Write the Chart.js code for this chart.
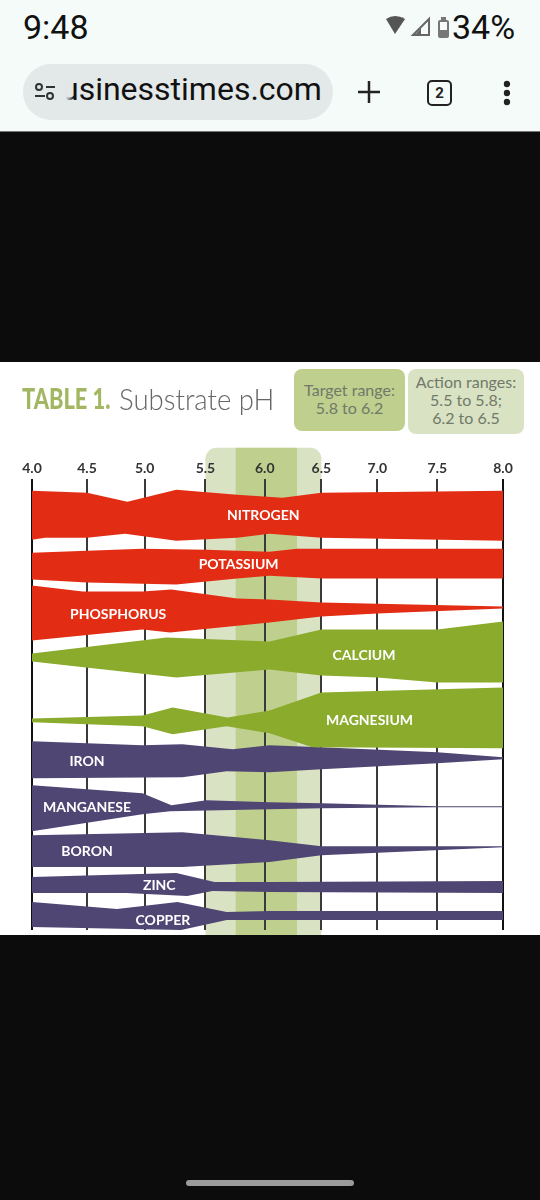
<!DOCTYPE html>
<html>
<head>
<meta charset="utf-8">
<title>Substrate pH</title>
<script src="https://cdn.jsdelivr.net/npm/chart.js@4/dist/chart.umd.min.js"></script>
<style>
    html, body { margin: 0; padding: 0; background: #0c0c0c; }
    #page { position: relative; width: 540px; height: 1200px; overflow: hidden; font-family: Roboto, sans-serif; }
    #statusbar { position: absolute; left: 0; top: 0; width: 540px; height: 131px; background: #f5fbf8; border-bottom: 1px solid #777; }
    .abs { position: absolute; white-space: nowrap; }
    #clock { left: 23px; top: 7px; font-size: 34px; color: #111; }
    #battery { left: 452px; top: 7px; font-size: 34px; color: #111; }
    #urlpill { left: 23px; top: 64px; width: 310px; height: 56px; border-radius: 28px; background: #e3e8e8; }
    #url { left: 61px; top: 70px; font-size: 32px; color: #111; }
    #urlfade { left: 58px; top: 72px; width: 16px; height: 40px; background: linear-gradient(to right, #e3e8e8 50%, rgba(227,232,232,0)); }
    #tabs { left: 427px; top: 80px; width: 21px; height: 22px; border: 2.5px solid #222; border-radius: 5px; font-size: 15px; font-weight: 700; line-height: 22px; text-align: center; color: #222; }
    #sheet { position: absolute; left: 0; top: 362px; width: 540px; height: 573px; background: #fff; }
    #chart-box { position: absolute; left: 0; top: 0; width: 540px; height: 573px; }
    #title1 { left: 22px; top: 19px; font-family: Lato, sans-serif; font-weight: 900; font-size: 28px; color: #a3b763; transform: scaleX(0.78); transform-origin: left top; }
    #title2 { left: 119px; top: 19px; font-family: Lato, sans-serif; font-weight: 300; font-size: 29px; color: #666; transform: scaleX(0.95); transform-origin: left top; }
    .range { position: absolute; top: 7px; height: 65px; border-radius: 8px; text-align: center; font-family: Lato, sans-serif; font-size: 16px; line-height: 18px; color: #70796a; }
    #target { left: 294px; width: 111px; height: 62px; background: #bfcf8e; }
    #action { left: 408px; width: 116px; background: #d9e2c3; }
    #homebar { left: 186px; top: 1180px; width: 168px; height: 6px; border-radius: 3px; background: #9c9c9c; }
</style>
</head>
<body>
<div id="page">
    <div id="statusbar"></div>
    <div class="abs" id="clock">9:48</div>
    <svg class="abs" style="left:384px;top:14px" width="60" height="26" viewBox="0 0 60 26">
        <path d="M2 5 Q11 -1 21 5 L11 20 Z" fill="#555"/>
        <text x="17" y="7" font-size="6" fill="#555" font-family="Roboto">6</text>
        <path d="M29 21 L45 5 V21 Z" fill="none" stroke="#666" stroke-width="2"/>
        <path d="M31 21 L37 14 V21 Z" fill="#666"/>
    </svg>
    <svg class="abs" style="left:437px;top:17px" width="14" height="22" viewBox="0 0 14 22">
        <rect x="1" y="3" width="11" height="18" rx="2" fill="#777"/>
        <rect x="4" y="0" width="5" height="3" fill="#777"/>
        <rect x="3" y="5" width="7" height="8" fill="#f5fbf8"/>
    </svg>
    <div class="abs" id="battery">34%</div>
    <div class="abs" id="urlpill"></div>
    <svg class="abs" style="left:34px;top:83px" width="22" height="18" viewBox="0 0 22 18" fill="none" stroke="#333" stroke-width="2">
        <circle cx="5" cy="4" r="3"/><path d="M12 4 H21"/><circle cx="16" cy="13" r="3"/><path d="M1 13 H11"/>
    </svg>
    <div class="abs" id="url">usinesstimes.com</div>
    <div class="abs" id="urlfade"></div>
    <svg class="abs" style="left:358px;top:81px" width="22" height="22" viewBox="0 0 22 22" stroke="#222" stroke-width="2.5">
        <path d="M11 0 V22 M0 11 H22"/>
    </svg>
    <div class="abs" id="tabs">2</div>
    <svg class="abs" style="left:502px;top:80px" width="10" height="26" viewBox="0 0 10 26" fill="#222">
        <circle cx="5" cy="4" r="3.2"/><circle cx="5" cy="13" r="3.2"/><circle cx="5" cy="22" r="3.2"/>
    </svg>

    <div id="sheet">
        <div id="chart-box"><canvas id="chart-1"></canvas></div>
        <div class="abs" id="title1">TABLE 1.</div>
        <div class="abs" id="title2">Substrate pH</div>
        <div class="range" id="target"><div style="padding-top:12px">Target range:<br>5.8 to 6.2</div></div>
        <div class="range" id="action"><div style="padding-top:4px">Action ranges:<br>5.5 to 5.8;<br>6.2 to 6.5</div></div>
    </div>
    <div class="abs" id="homebar"></div>
</div>

<script>
// pH tick values along the top axis
const phTicks = [4.0, 4.5, 5.0, 5.5, 6.0, 6.5, 7.0, 7.5, 8.0];
const targetRange = [5.8, 6.2];
const actionRange = [5.5, 6.5];

// Each nutrient: pH stops and depth down the table for upper and lower edge
const nitrogenTopPh = [4, 4.5, 4.85, 5.26, 5.81, 6.11, 6.5, 8];
const nitrogenTop = [12, 14, 23, 11, 16, 19, 14, 12];
const nitrogenLowPh = [4, 4.12, 4.5, 4.83, 5.26, 5.81, 6.03, 6.5, 8];
const nitrogenLow = [61, 59, 59, 55, 62, 59, 55, 59, 62];

const potassiumTopPh = [4, 4.98, 5.51, 6.03, 6.2, 6.5, 8];
const potassiumTop = [74, 70, 71, 73, 70, 70, 70];
const potassiumLowPh = [4, 4.5, 5.26, 5.81, 6.03, 6.5, 8];
const potassiumLow = [101, 104, 106, 100, 97, 100, 100];

const phosphorusTopPh = [4, 4.46, 4.98, 5.22, 5.81, 6.03, 6.5, 8];
const phosphorusTop = [107, 113, 113, 111, 120, 121, 124, 128];
const phosphorusLowPh = [4, 4.98, 5.21, 6.03, 6.5, 7, 8];
const phosphorusLow = [162, 151, 154, 144, 138, 135, 130];

const calciumTopPh = [4, 5.18, 6.03, 6.5, 7.5, 8];
const calciumTop = [175, 159, 163, 151, 151, 143];
const calciumLowPh = [4, 5.26, 6.03, 6.5, 7, 7.5, 8];
const calciumLow = [183, 199, 191, 197, 199, 204, 204];

const magnesiumTopPh = [4, 4.98, 5.23, 5.72, 6.03, 6.5, 8];
const magnesiumTop = [240, 237, 229, 239, 232, 214, 209];
const magnesiumLowPh = [4, 4.98, 5.23, 5.71, 6.03, 6.39, 8];
const magnesiumLow = [244, 248, 256, 248, 255, 269, 270];

const ironTopPh = [4, 4.98, 5.31, 5.77, 6.03, 6.5, 7.5, 8];
const ironTop = [263, 267, 266, 271, 267, 269, 274, 279];
const ironLowPh = [4, 5.31, 5.71, 6.03, 6.5, 7.5, 8];
const ironLow = [300, 299, 293, 294, 291, 285, 281];

const manganeseTopPh = [4, 4.98, 5.22, 5.51, 6.03, 6.5, 7.5, 8];
const manganeseTop = [307, 315, 327, 322, 324, 325, 328, 328];
const manganeseLowPh = [4, 4.98, 5.21, 6.03, 6.5, 7.5, 8];
const manganeseLow = [353, 336, 333, 331, 330, 329, 329];

const boronTopPh = [4, 5.31, 6.03, 6.5, 8];
const boronTop = [357, 354, 362, 368, 368];
const boronLowPh = [4, 5.31, 6.03, 6.5, 8];
const boronLow = [389, 389, 384, 377, 369];

const zincTopPh = [4, 5.26, 5.59, 6.03, 8];
const zincTop = [399, 395, 404, 404, 403];
const zincLowPh = [4, 4.84, 5.35, 5.57, 6.03, 8];
const zincLow = [415, 415, 418, 413, 414, 415];

const copperTopPh = [4, 4.76, 5.27, 5.71, 6.03, 8];
const copperTop = [424, 431, 424, 434, 433, 433];
const copperLowPh = [4, 5.3, 5.71, 8];
const copperLow = [449, 452, 442, 442];

const nutrientNames = ['NITROGEN', 'POTASSIUM', 'PHOSPHORUS', 'CALCIUM', 'MAGNESIUM', 'IRON', 'MANGANESE', 'BORON', 'ZINC', 'COPPER'];
const nameAtPh = [5.99, 5.82, 4.77, 6.88, 6.93, 4.5, 4.5, 4.5, 5.12, 5.15];
const nameAtDepth = [37, 86, 136, 177, 242, 283, 329, 373, 407, 442];

const RED = '#e22d14';
const GREEN = '#8aab2c';
const PURPLE = '#504674';

// The axis is not evenly spaced, these are the stops along its width (0 to 1)
const axisStopsPh = [4, 4.5, 5, 5.5, 5.8, 6, 6.2, 6.5, 7, 7.5, 8];
const axisStopsAt = [0, 0.1168, 0.2393, 0.3682, 0.4325, 0.4941, 0.5627, 0.6144, 0.7333, 0.8607, 1];

class PhScale extends Chart.LinearScale {
    getPixelForValue(value) {
        let i = 0;
        while (i < axisStopsPh.length - 2 && value > axisStopsPh[i + 1]) {
            i++;
        }
        const t = (value - axisStopsPh[i]) / (axisStopsPh[i + 1] - axisStopsPh[i]);
        return this.getPixelForDecimal(axisStopsAt[i] + t * (axisStopsAt[i + 1] - axisStopsAt[i]));
    }
}
PhScale.id = 'phscale';
PhScale.defaults = Chart.LinearScale.defaults;
Chart.register(PhScale);

function edge(phs, depths) {
    return phs.map(function(ph, i) {
        return {x: ph, y: depths[i]};
    });
}

// Upper edge fills down to the lower edge that follows it
function band(name, color, topPh, top, lowPh, low) {
    return [
        {label: name, data: edge(topPh, top), backgroundColor: color, borderWidth: 0, pointRadius: 0, fill: '+1'},
        {label: name + ' low', data: edge(lowPh, low), backgroundColor: color, borderWidth: 0, pointRadius: 0, fill: false}
    ];
}

const datasets = [].concat(
    band('Nitrogen', RED, nitrogenTopPh, nitrogenTop, nitrogenLowPh, nitrogenLow),
    band('Potassium', RED, potassiumTopPh, potassiumTop, potassiumLowPh, potassiumLow),
    band('Phosphorus', RED, phosphorusTopPh, phosphorusTop, phosphorusLowPh, phosphorusLow),
    band('Calcium', GREEN, calciumTopPh, calciumTop, calciumLowPh, calciumLow),
    band('Magnesium', GREEN, magnesiumTopPh, magnesiumTop, magnesiumLowPh, magnesiumLow),
    band('Iron', PURPLE, ironTopPh, ironTop, ironLowPh, ironLow),
    band('Manganese', PURPLE, manganeseTopPh, manganeseTop, manganeseLowPh, manganeseLow),
    band('Boron', PURPLE, boronTopPh, boronTop, boronLowPh, boronLow),
    band('Zinc', PURPLE, zincTopPh, zincTop, zincLowPh, zincLow),
    band('Copper', PURPLE, copperTopPh, copperTop, copperLowPh, copperLow)
);

// Shaded pH ranges behind the grid
const rangeShade = {
    id: 'rangeShade',
    beforeDraw(chart) {
        const ctx = chart.ctx;
        const x = chart.scales.x;
        const top = chart.chartArea.top - 31;
        const h = chart.height - top;
        const x1 = x.getPixelForValue(actionRange[0]);
        const x2 = x.getPixelForValue(actionRange[1]);
        const x3 = x.getPixelForValue(targetRange[0]);
        const x4 = x.getPixelForValue(targetRange[1]);
        ctx.save();
        ctx.fillStyle = '#d9e2c3';
        ctx.beginPath();
        ctx.roundRect(x1, top, x2 - x1, h, [11, 11, 0, 0]);
        ctx.fill();
        ctx.fillStyle = '#bfcf8e';
        ctx.fillRect(x3, top, x4 - x3, h);
        ctx.restore();
    }
};

// Nutrient names on top of their bands
const nutrientLabels = {
    id: 'nutrientLabels',
    afterDatasetsDraw(chart) {
        const ctx = chart.ctx;
        ctx.save();
        ctx.fillStyle = '#fff';
        ctx.font = '700 14px Lato, sans-serif';
        ctx.textAlign = 'center';
        ctx.textBaseline = 'middle';
        nutrientNames.forEach(function(name, i) {
            ctx.fillText(name, chart.scales.x.getPixelForValue(nameAtPh[i]), chart.scales.y.getPixelForValue(nameAtDepth[i]));
        });
        ctx.restore();
    }
};

const config = {
    type: 'line',
    data: {datasets: datasets},
    options: {
        responsive: true,
        maintainAspectRatio: false,
        animation: false,
        parsing: {xAxisKey: 'x', yAxisKey: 'y'},
        elements: {line: {tension: 0}},
        layout: {padding: {left: 32, right: 37, top: 96, bottom: 5}},
        plugins: {legend: {display: false}, tooltip: {enabled: false}, title: {display: false}},
        scales: {
            x: {
                type: 'phscale',
                position: 'top',
                min: phTicks[0],
                max: phTicks[phTicks.length - 1],
                border: {display: false},
                grid: {
                    drawTicks: false,
                    lineWidth: 2,
                    color: function(c) {
                        return (c.index === 0 || c.index === phTicks.length - 1) ? '#111' : '#3a3a3a';
                    }
                },
                ticks: {
                    stepSize: 0.5,
                    maxRotation: 0,
                    padding: 2,
                    color: '#333',
                    font: {family: 'Lato, sans-serif', size: 14, weight: '700'},
                    callback: function(v) {
                        return phTicks.includes(v) ? v.toFixed(1) : '';
                    }
                }
            },
            y: {
                type: 'linear',
                display: false,
                reverse: true,
                min: 0,
                max: 452
            }
        }
    },
    plugins: [rangeShade, nutrientLabels]
};

const chart1 = new Chart(document.getElementById('chart-1'), config);
</script>
</body>
</html>
